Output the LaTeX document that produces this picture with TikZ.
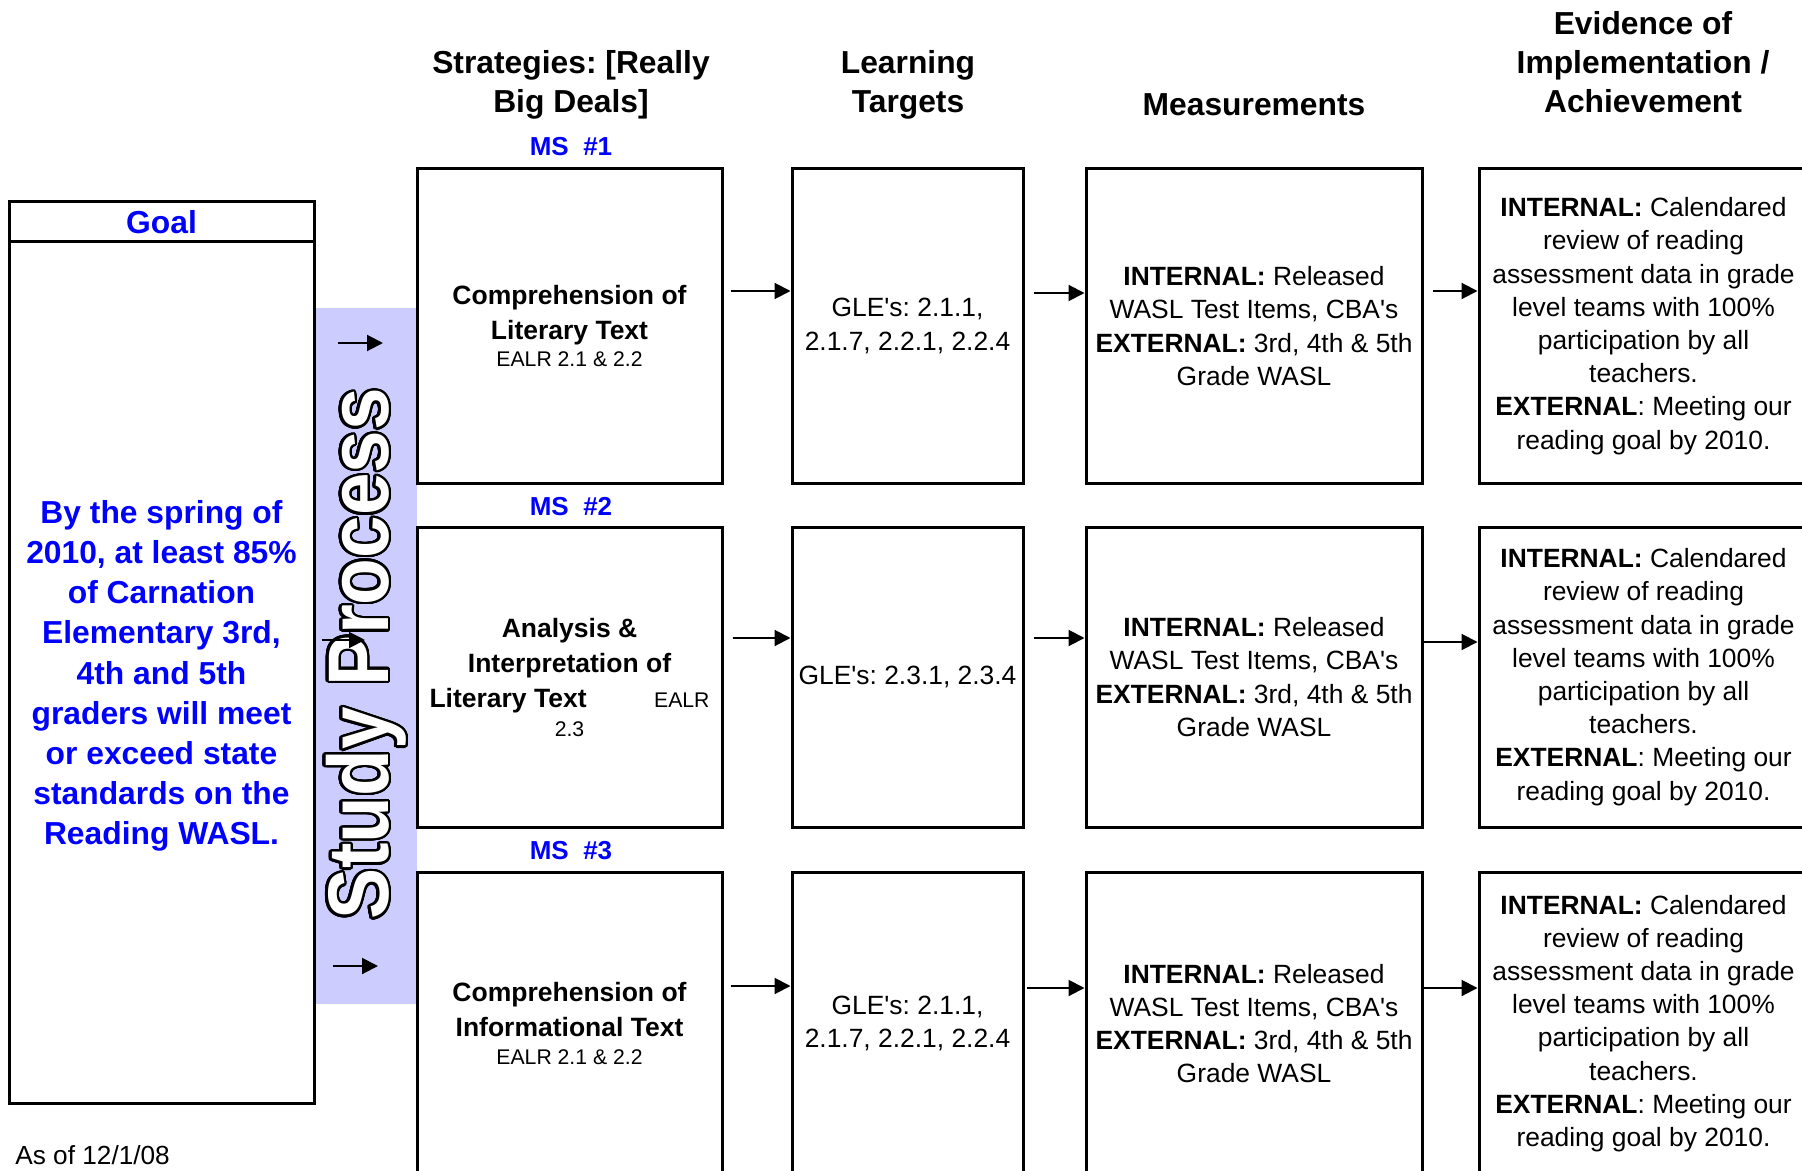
\documentclass[tikz,border=0pt]{standalone}
\usepackage{graphicx}
\usepackage{fontspec}
\setmainfont{Liberation Sans}
\usepackage{contour}
\usetikzlibrary{arrows.meta}

\definecolor{goalblue}{HTML}{0000FF}
\definecolor{bandblue}{HTML}{CCCCFF}
\contourlength{1.3pt}
\contournumber{32}
\frenchspacing
\newcommand{\apos}{\textquotesingle}
\newcommand{\ealrfont}{\mdseries\fontsize{10.6}{13}\selectfont}

\tikzset{
    box/.style   = {draw, line width=1.5pt, inner sep=0pt, align=center},
    arr/.style   = {-{Triangle[length=8pt,width=8pt]}, line width=1pt},
    head/.style  = {align=center, font=\fontsize{15.9}{19.5}\selectfont\bfseries},
    ms/.style    = {text=goalblue, font=\fontsize{13}{15}\selectfont\bfseries},
    deal/.style  = {box, font=\fontsize{13.25}{17.5}\selectfont\bfseries},
    body/.style  = {box, font=\fontsize{13.2}{16.6}\selectfont},
}

\begin{document}
\begin{tikzpicture}[x = 0.5pt, y = -0.5pt]
    \useasboundingbox (0,0) rectangle (1802,1171);
    % study process band
    \fill[bandblue] (314,308) rectangle (417,1004);

    % goal
    \node[box, minimum width=152.5pt, minimum height=20pt, text=goalblue, font=\fontsize{15.9}{19}\selectfont\bfseries] (goalhead) at (161.5,222) {Goal};
    \node[box, minimum width=152.5pt, minimum height=430.5pt] (goal) at (161.5,672.5) {};
    \node[align=center, text=goalblue, font=\fontsize{15.9}{20.1}\selectfont\bfseries] (goaltext) at ([yshift=-1.75pt]goal.center)
        {By the spring of\\2010, at least 85\%\\of Carnation\\Elementary 3rd,\\4th and 5th\\graders will meet\\or exceed state\\standards on the\\Reading WASL.};
    \node[anchor=west, inner sep=0pt, font=\fontsize{13.1}{15}\selectfont] (asof) at (15,1155) {As of 12/1/08};

    % column heads
    \node[head] (hstrat) at (571,85) {Strategies: [Really\\Big Deals]};
    \node[head] (htarget) at (908,85) {Learning\\Targets};
    \node[head] (hmeas) at (1254,105) {Measurements};
    \node[head] (hevid) at (1643,62) {Evidence of\\Implementation /\\Achievement};

    \node[ms] (ms1) at (571,147) {MS\ \ \#1};
    \node[ms] (ms2) at (571,507) {MS\ \ \#2};
    \node[ms] (ms3) at (571,851) {MS\ \ \#3};

    % row 1
    \node[deal, minimum width=152.5pt, minimum height=157pt] (s1) at (569.5,326)
        {Comprehension of\\Literary Text\\[-3.8pt]{\ealrfont EALR 2.1 \& 2.2}};
    \node[body, minimum width=115.5pt, minimum height=157pt] (t1) at (907.5,326)
        {GLE\apos s: 2.1.1,\\2.1.7, 2.2.1, 2.2.4};
    \node[body, minimum width=168pt, minimum height=157pt] (m1) at (1254,326)
        {\textbf{INTERNAL:} Released\\WASL Test Items, CBA\apos s\\\textbf{EXTERNAL:} 3rd, 4th \& 5th\\Grade WASL};
    \node[body, minimum width=164.5pt, minimum height=157pt] (e1) at (1643.5,326)
        {\textbf{INTERNAL:} Calendared\\review of reading\\assessment data in grade\\level teams with 100\%\\participation by all\\teachers.\\\textbf{EXTERNAL}: Meeting our\\reading goal by 2010.};

    % row 2
    \node[deal, minimum width=152.5pt, minimum height=150pt] (s2) at (569.5,677)
        {Analysis \&\\Interpretation of\\\makebox[140pt]{Literary Text\hfill{\ealrfont EALR}}\\[-3pt]{\ealrfont 2.3}};
    \node[body, minimum width=115.5pt, minimum height=150pt] (t2) at (907.5,677)
        {GLE\apos s: 2.3.1, 2.3.4};
    \node[body, minimum width=168pt, minimum height=150pt] (m2) at (1254,677)
        {\textbf{INTERNAL:} Released\\WASL Test Items, CBA\apos s\\\textbf{EXTERNAL:} 3rd, 4th \& 5th\\Grade WASL};
    \node[body, minimum width=164.5pt, minimum height=150pt] (e2) at (1643.5,677)
        {\textbf{INTERNAL:} Calendared\\review of reading\\assessment data in grade\\level teams with 100\%\\participation by all\\teachers.\\\textbf{EXTERNAL}: Meeting our\\reading goal by 2010.};

    % row 3
    \node[deal, minimum width=152.5pt, minimum height=151.5pt] (s3) at (569.5,1023.5)
        {Comprehension of\\Informational Text\\[-3.8pt]{\ealrfont EALR 2.1 \& 2.2}};
    \node[body, minimum width=115.5pt, minimum height=151.5pt] (t3) at (907.5,1023.5)
        {GLE\apos s: 2.1.1,\\2.1.7, 2.2.1, 2.2.4};
    \node[body, minimum width=168pt, minimum height=151.5pt] (m3) at (1254,1023.5)
        {\textbf{INTERNAL:} Released\\WASL Test Items, CBA\apos s\\\textbf{EXTERNAL:} 3rd, 4th \& 5th\\Grade WASL};
    \node[body, minimum width=164.5pt, minimum height=151.5pt] (e3) at (1643.5,1023.5)
        {\textbf{INTERNAL:} Calendared\\review of reading\\assessment data in grade\\level teams with 100\%\\participation by all\\teachers.\\\textbf{EXTERNAL}: Meeting our\\reading goal by 2010.};

    % arrows between columns
    \draw[arr, shorten <=3.5pt] (s1.east |- 0,291) -- (t1.west |- 0,291);
    \draw[arr, shorten <=4.5pt] (t1.east |- 0,293) -- (m1.west |- 0,293);
    \draw[arr, shorten <=4.5pt] (m1.east |- 0,291) -- (e1.west |- 0,291);
    \draw[arr, shorten <=4.5pt] (s2.east |- 0,638) -- (t2.west |- 0,638);
    \draw[arr, shorten <=4.5pt] (t2.east |- 0,638) -- (m2.west |- 0,638);
    \draw[arr] (m2.east |- 0,642) -- (e2.west |- 0,642);
    \draw[arr, shorten <=3.5pt] (s3.east |- 0,986) -- (t3.west |- 0,986);
    \draw[arr, shorten <=1pt] (t3.east |- 0,988) -- (m3.west |- 0,988);
    \draw[arr] (m3.east |- 0,988) -- (e3.west |- 0,988);

    % study process
    \node[rotate=90, anchor=base, inner sep=0pt, text=white, font=\fontsize{43}{43}\selectfont\bfseries] (study) at (388,654)
        {\scalebox{0.89}[1]{\contour{black}{Study Process}}};
    \coordinate (b1) at (338,343);
    \coordinate (b1e) at (383,343);
    \coordinate (b2) at (322,640);
    \coordinate (b2e) at (365,640);
    \coordinate (b3) at (333,966);
    \coordinate (b3e) at (378,966);
    \draw[arr] (b1) -- (b1e);
    \draw[arr] (b2) -- (b2e);
    \draw[arr] (b3) -- (b3e);
\end{tikzpicture}
\end{document}
